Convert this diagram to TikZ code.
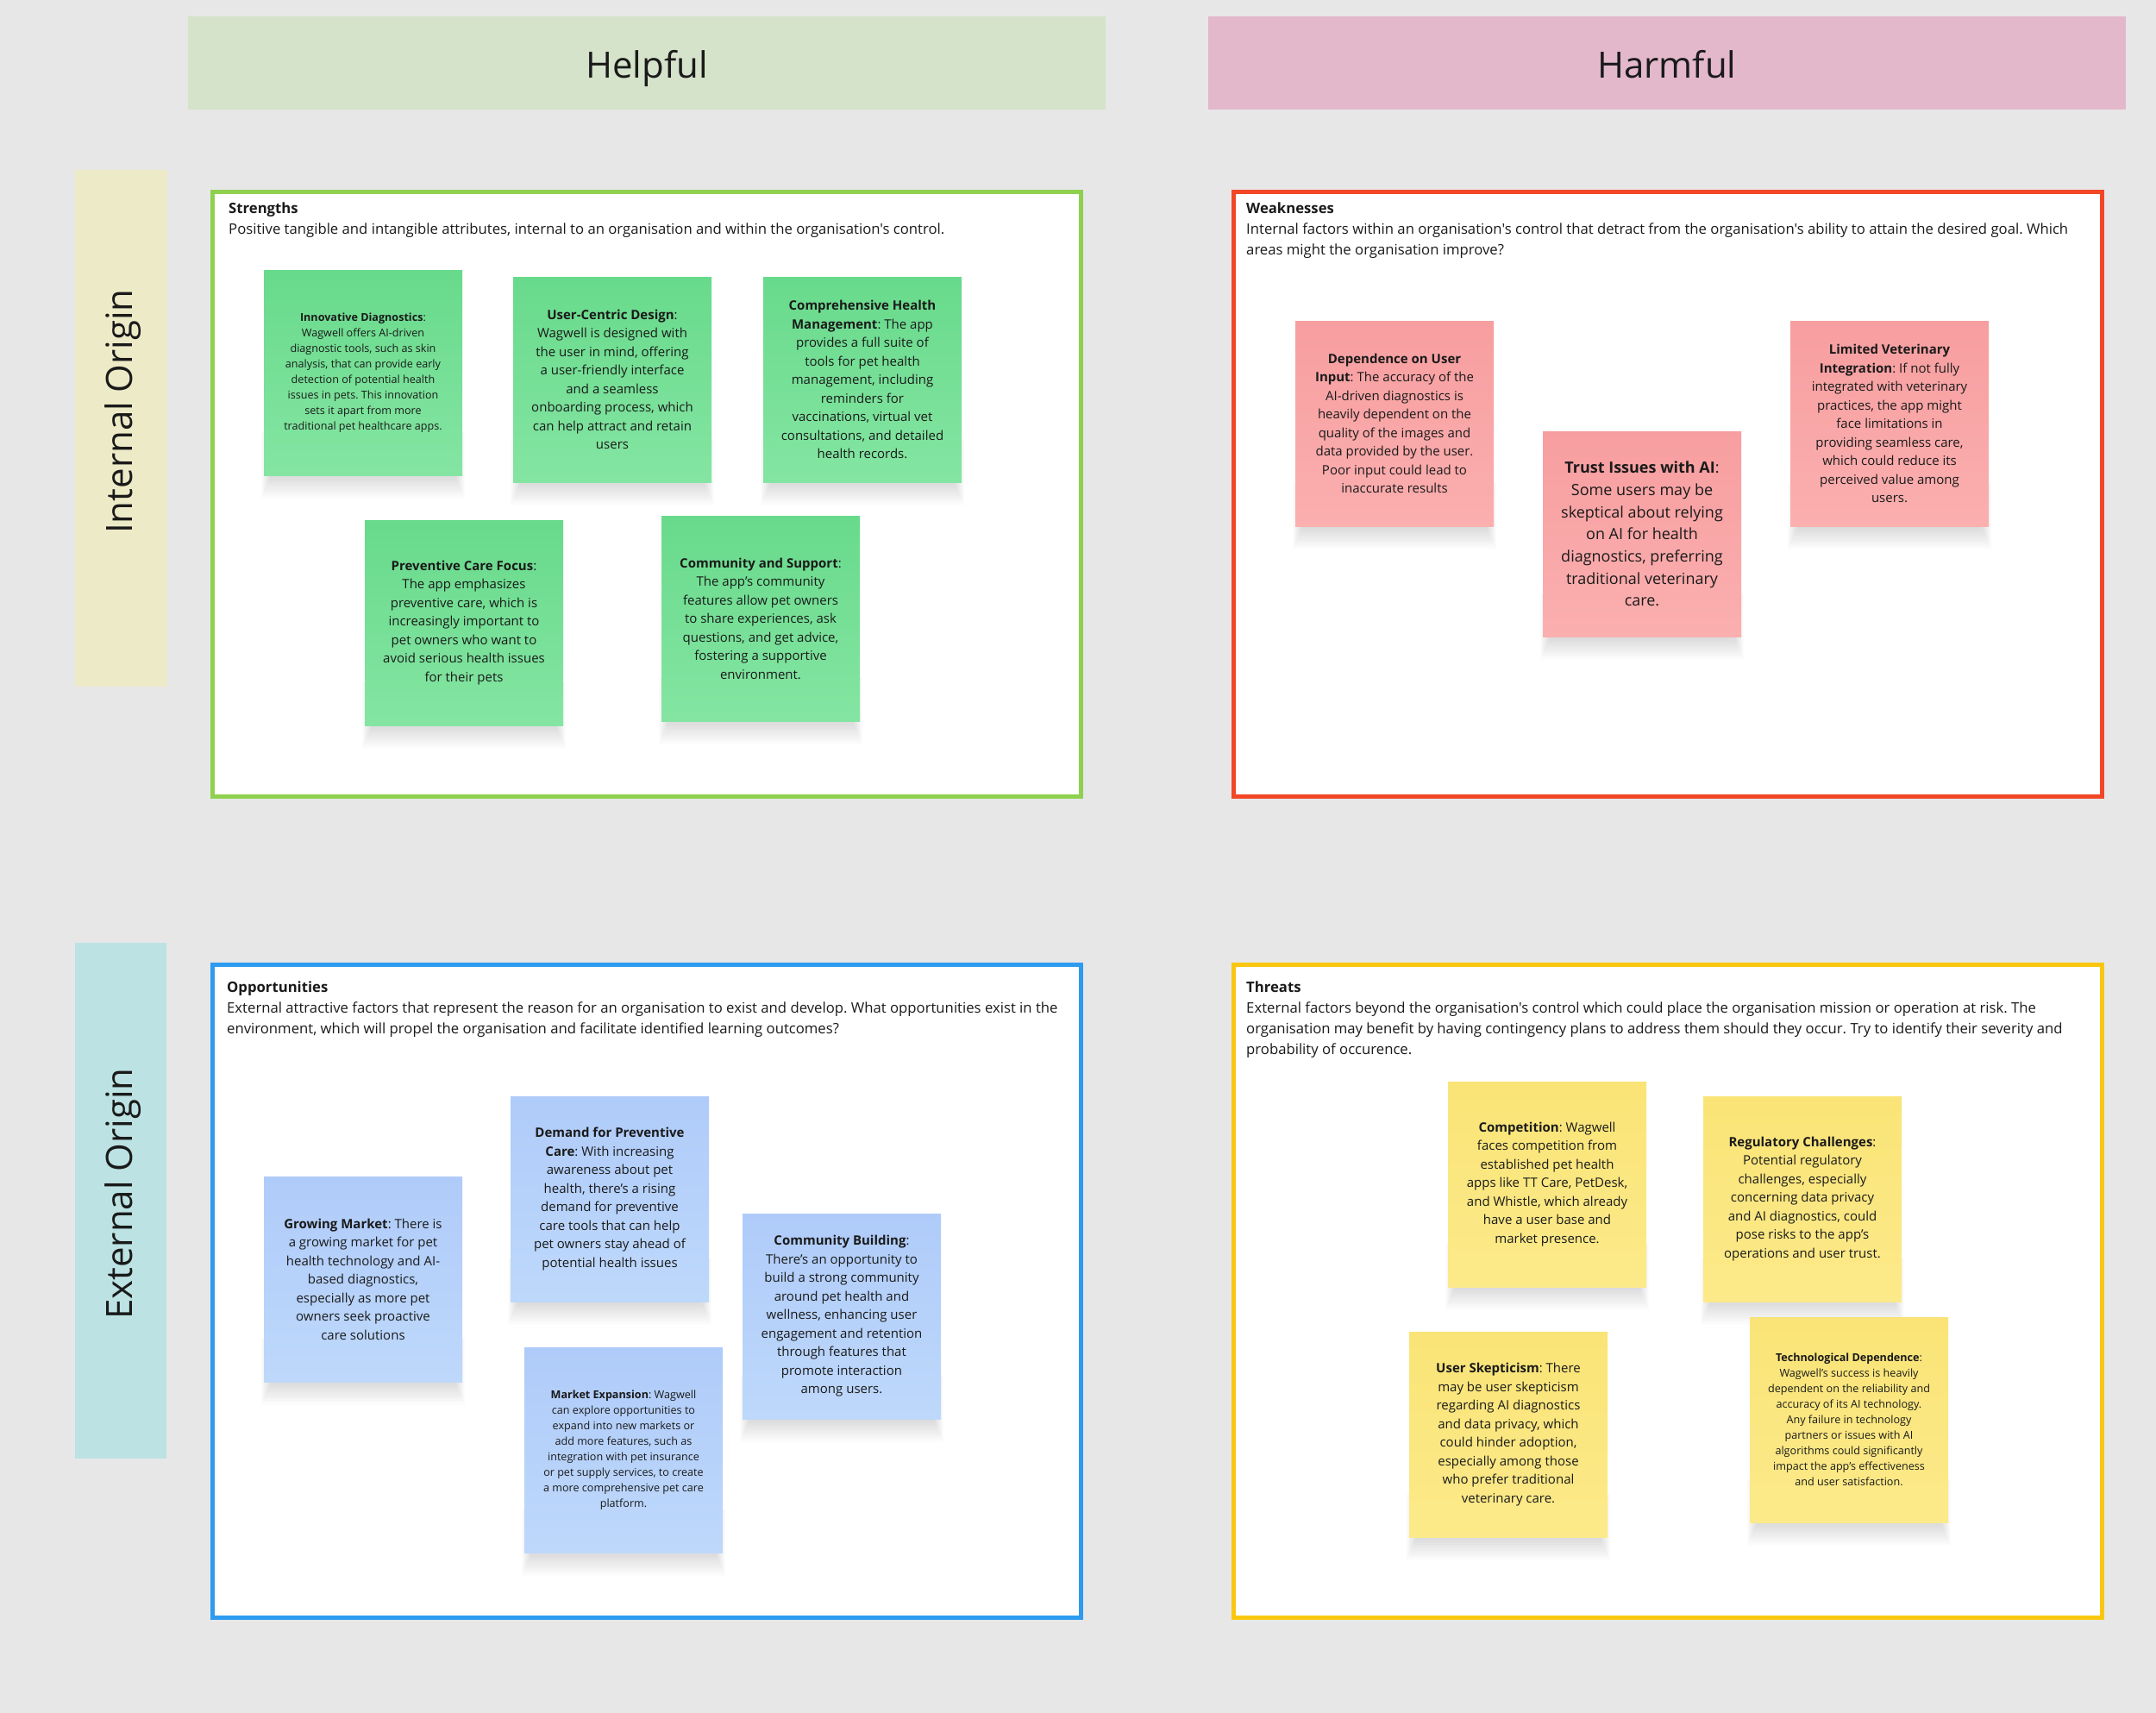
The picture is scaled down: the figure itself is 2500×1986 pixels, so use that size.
\documentclass[tikz,border=0pt]{standalone}
\usepackage{fontspec}
\setmainfont{Open Sans}[Ligatures=TeXOff]
\frenchspacing
\usetikzlibrary{calc}
\pgfdeclarelayer{back}
\pgfdeclarelayer{shad}
\pgfsetlayers{back,shad,main}
\definecolor{bg}{HTML}{E7E7E7}
\definecolor{txt}{HTML}{1A1A1A}
\definecolor{helpfulc}{HTML}{D5E3CA}
\definecolor{harmfulc}{HTML}{E3B8CB}
\definecolor{internalc}{HTML}{EDEBC7}
\definecolor{externalc}{HTML}{BCE2E3}
\definecolor{sframe}{HTML}{8FD14F}
\definecolor{wframe}{HTML}{F24726}
\definecolor{oframe}{HTML}{2D9BF0}
\definecolor{tframe}{HTML}{FAC710}
\definecolor{gtop}{HTML}{68DA8B}
\definecolor{gbot}{HTML}{84E5A2}
\definecolor{rtop}{HTML}{F79EA0}
\definecolor{rbot}{HTML}{FBAFAF}
\definecolor{btop}{HTML}{AFCBF9}
\definecolor{bbot}{HTML}{BED8FB}
\definecolor{ytop}{HTML}{FAE477}
\definecolor{ybot}{HTML}{FCEA8A}
\newcommand\stickyshadow[1]{%
  \begin{pgfonlayer}{shad}
  \foreach \k in {1,...,12}{%
    \fill[black,opacity=0.012] ($(#1.south west)+(9-\k,-50)$) rectangle ($(#1.south east)+(\k-9,2.2*\k)$);
  }
  \end{pgfonlayer}}
\begin{document}
\begin{tikzpicture}[x=1pt,y=-1pt,
  hdrtext/.style={text=txt,font={\fontsize{42}{50}\selectfont},inner sep=0pt},
  frame/.style={draw=#1,line width=5pt,fill=white},
  qtext/.style={anchor=north west,align=left,inner sep=0pt,text=txt,font={\fontsize{16.7}{24}\selectfont}},
  sticky/.style={minimum width=230pt,minimum height=238pt,inner sep=0pt,align=center,text=txt},
  mid/.style={font={\fontsize{15}{21.5}\selectfont}},
  small/.style={font={\fontsize{12.6}{18}\selectfont}},
  big/.style={font={\fontsize{18}{25.7}\selectfont}},
  gs/.style={sticky,top color=gtop,bottom color=gbot},
  rs/.style={sticky,top color=rtop,bottom color=rbot},
  bs/.style={sticky,top color=btop,bottom color=bbot},
  ys/.style={sticky,top color=ytop,bottom color=ybot}]
\begin{pgfonlayer}{back}
\fill[bg] (0,0) rectangle (2500,1986);
% headers
\fill[helpfulc] (218,19) rectangle (1282,127);
\fill[harmfulc] (1401,19) rectangle (2465,127);
\fill[internalc] (87,197) rectangle (194,796);
\fill[externalc] (87,1093) rectangle (193,1691);
% quadrant frames
\draw[frame=sframe] (246.5,222.5) rectangle (1253.5,923.5);
\draw[frame=wframe] (1430.5,222.5) rectangle (2437.5,923.5);
\draw[frame=oframe] (246.5,1118.5) rectangle (1253.5,1875.5);
\draw[frame=tframe] (1430.5,1118.5) rectangle (2437.5,1875.5);
\end{pgfonlayer}
\useasboundingbox (0,0) rectangle (2500,1986);

\node[hdrtext,anchor=base] (helpful) at (750,90) {Helpful};
\node[hdrtext,anchor=base] (harmful) at (1933,90) {Harmful};
\node[hdrtext,rotate=90] (internal) at (143,477) {Internal Origin};
\node[hdrtext,rotate=90] (external) at (143,1384) {External Origin};

\node[qtext] (strengths) at (265,235) {\textbf{Strengths}\\Positive tangible and intangible attributes, internal to an organisation and within the organisation's control.};
\node[qtext] (weaknesses) at (1445,235) {\textbf{Weaknesses}\\Internal factors within an organisation's control that detract from the organisation's ability to attain the desired goal. Which\\areas might the organisation improve?};
\node[qtext] (opportunities) at (263,1138) {\textbf{Opportunities}\\External attractive factors that represent the reason for an organisation to exist and develop. What opportunities exist in the\\environment, which will propel the organisation and facilitate identified learning outcomes?};
\node[qtext] (threats) at (1445,1138) {\textbf{Threats}\\External factors beyond the organisation's control which could place the organisation mission or operation at risk. The\\organisation may benefit by having contingency plans to address them should they occur. Try to identify their severity and\\probability of occurence.};

% strengths
\node[gs,small] (s1) at (421,432) {\textbf{Innovative Diagnostics}:\\Wagwell offers AI-driven\\diagnostic tools, such as skin\\analysis, that can provide early\\detection of potential health\\issues in pets. This innovation\\sets it apart from more\\traditional pet healthcare apps.};
\node[gs,mid] (s2) at (710,440) {\textbf{User-Centric Design}:\\Wagwell is designed with\\the user in mind, offering\\a user-friendly interface\\and a seamless\\onboarding process, which\\can help attract and retain\\users};
\node[gs,mid] (s3) at (1000,440) {\textbf{Comprehensive Health}\\\textbf{Management}: The app\\provides a full suite of\\tools for pet health\\management, including\\reminders for\\vaccinations, virtual vet\\consultations, and detailed\\health records.};
\node[gs,mid] (s4) at (538,722) {\textbf{Preventive Care Focus}:\\The app emphasizes\\preventive care, which is\\increasingly important to\\pet owners who want to\\avoid serious health issues\\for their pets};
\node[gs,mid] (s5) at (882,717) {\textbf{Community and Support}:\\The app’s community\\features allow pet owners\\to share experiences, ask\\questions, and get advice,\\fostering a supportive\\environment.};

% weaknesses
\node[rs,mid] (w1) at (1617,491) {\textbf{Dependence on User}\\\textbf{Input}: The accuracy of the\\AI-driven diagnostics is\\heavily dependent on the\\quality of the images and\\data provided by the user.\\Poor input could lead to\\inaccurate results};
\node[rs,big] (w2) at (1904,619) {\textbf{Trust Issues with AI}:\\Some users may be\\skeptical about relying\\on AI for health\\diagnostics, preferring\\traditional veterinary\\care.};
\node[rs,mid] (w3) at (2191,491) {\textbf{Limited Veterinary}\\\textbf{Integration}: If not fully\\integrated with veterinary\\practices, the app might\\face limitations in\\providing seamless care,\\which could reduce its\\perceived value among\\users.};

% opportunities
\node[bs,mid] (o1) at (421,1483) {\textbf{Growing Market}: There is\\a growing market for pet\\health technology and AI-\\based diagnostics,\\especially as more pet\\owners seek proactive\\care solutions};
\node[bs,mid] (o2) at (707,1390) {\textbf{Demand for Preventive}\\\textbf{Care}: With increasing\\awareness about pet\\health, there’s a rising\\demand for preventive\\care tools that can help\\pet owners stay ahead of\\potential health issues};
\node[bs,mid] (o3) at (976,1526) {\textbf{Community Building}:\\There’s an opportunity to\\build a strong community\\around pet health and\\wellness, enhancing user\\engagement and retention\\through features that\\promote interaction\\among users.};
\node[bs,small] (o4) at (723,1681) {\textbf{Market Expansion}: Wagwell\\can explore opportunities to\\expand into new markets or\\add more features, such as\\integration with pet insurance\\or pet supply services, to create\\a more comprehensive pet care\\platform.};

% threats
\node[ys,mid] (t1) at (1794,1373) {\textbf{Competition}: Wagwell\\faces competition from\\established pet health\\apps like TT Care, PetDesk,\\and Whistle, which already\\have a user base and\\market presence.};
\node[ys,mid] (t2) at (2090,1390) {\textbf{Regulatory Challenges}:\\Potential regulatory\\challenges, especially\\concerning data privacy\\and AI diagnostics, could\\pose risks to the app’s\\operations and user trust.};
\node[ys,mid] (t3) at (1749,1663) {\textbf{User Skepticism}: There\\may be user skepticism\\regarding AI diagnostics\\and data privacy, which\\could hinder adoption,\\especially among those\\who prefer traditional\\veterinary care.};
\node[ys,small] (t4) at (2144,1646) {\textbf{Technological Dependence}:\\Wagwell’s success is heavily\\dependent on the reliability and\\accuracy of its AI technology.\\Any failure in technology\\partners or issues with AI\\algorithms could significantly\\impact the app’s effectiveness\\and user satisfaction.};

\stickyshadow{s1}\stickyshadow{s2}\stickyshadow{s3}\stickyshadow{s4}\stickyshadow{s5}
\stickyshadow{w1}\stickyshadow{w2}\stickyshadow{w3}
\stickyshadow{o1}\stickyshadow{o2}\stickyshadow{o3}\stickyshadow{o4}
\stickyshadow{t1}\stickyshadow{t2}\stickyshadow{t3}\stickyshadow{t4}
\end{tikzpicture}
\end{document}
